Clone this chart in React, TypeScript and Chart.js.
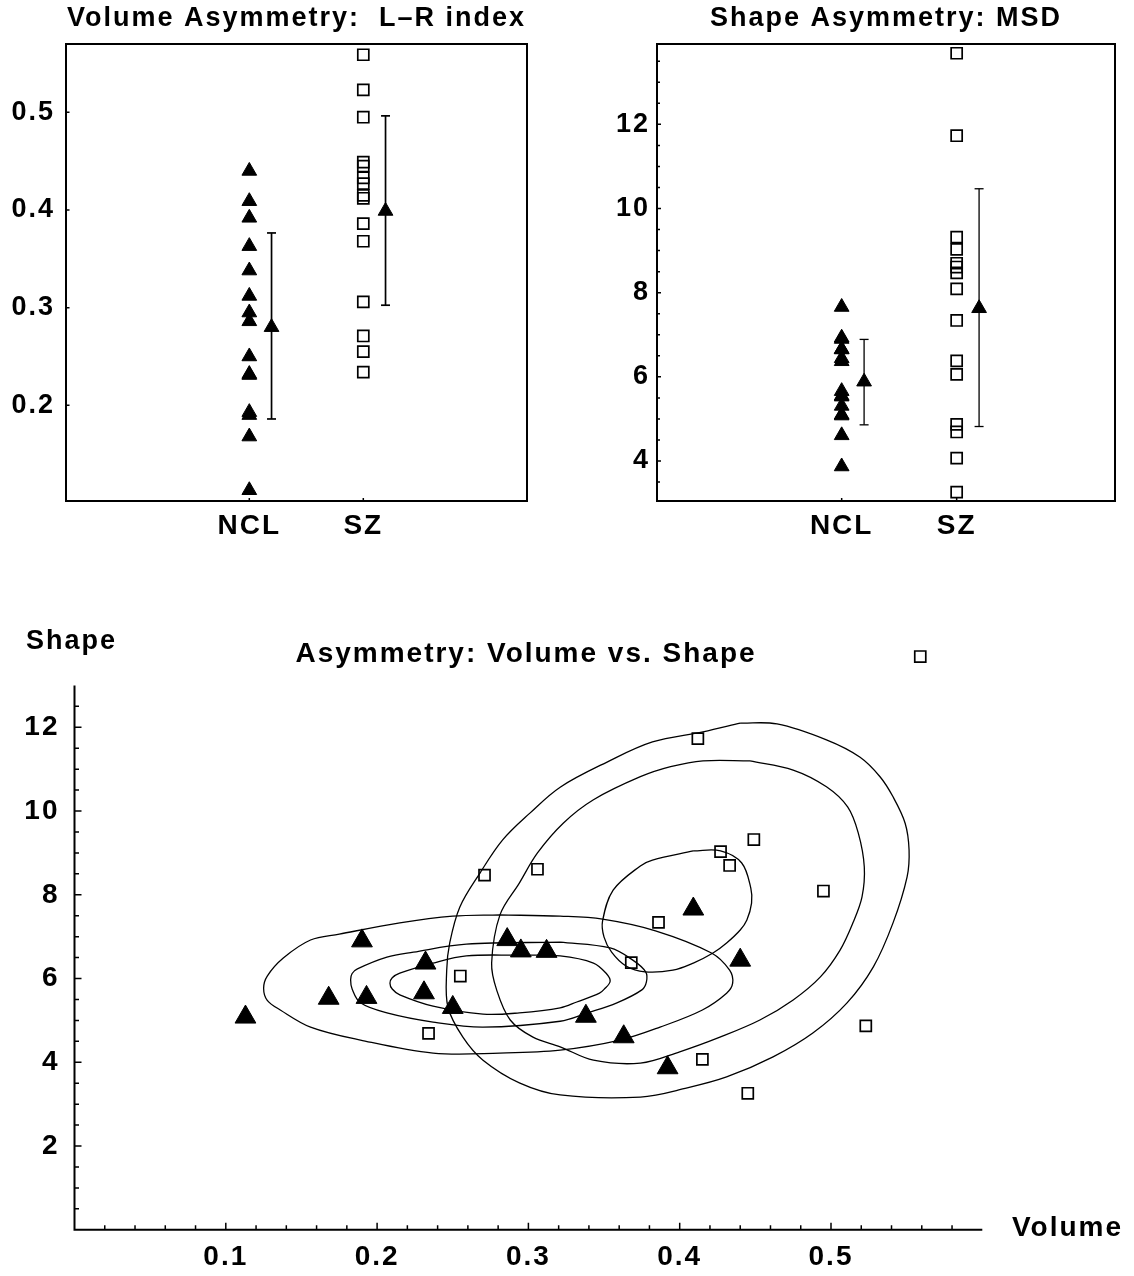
import React, { useEffect, useRef } from 'react';
import { Chart, registerables } from 'chart.js';

Chart.register(...registerables);

const FONT = '"Liberation Sans", Arial, sans-serif';
const BLACK = '#000';

// ---------- data ----------
const groups = ['NCL', 'SZ'];

const nclVolume = [0.113, 0.168, 0.190, 0.193, 0.232, 0.231, 0.250, 0.286, 0.295, 0.312, 0.338, 0.363, 0.392, 0.409, 0.440];
const nclShape = [5.08, 5.53, 6.90, 5.55, 6.37, 5.66, 5.31, 6.93, 6.66, 6.65, 5.10, 4.61, 3.87, 7.66, 6.44];
const szVolume = [0.559, 0.412, 0.449, 0.427, 0.433, 0.306, 0.271, 0.495, 0.386, 0.368, 0.255, 0.523, 0.234, 0.415, 0.445];
const szShape = [13.69, 11.73, 9.32, 9.03, 8.70, 8.61, 8.47, 8.09, 7.34, 6.38, 6.06, 4.87, 4.69, 4.07, 3.26];

const volumeMean = [0.280, 0.399];
const volumeLow = [0.186, 0.3025];
const volumeHigh = [0.3765, 0.4964];
const shapeMean = [5.885, 7.63];
const shapeLow = [4.86, 4.82];
const shapeHigh = [6.89, 10.47];

const volumeTickLabels = ['0.2', '0.3', '0.4', '0.5'];
const shapeTickLabels = ['4', '6', '8', '10', '12'];
const scatterXTickLabels = ['0.1', '0.2', '0.3', '0.4', '0.5'];
const scatterYTickLabels = ['2', '4', '6', '8', '10', '12'];

// contour outlines: [volume, shape]
const nclContourInner = [[0.2085, 5.89], [0.210, 6.02], [0.215, 6.13], [0.237, 6.37], [0.259, 6.54], [0.294, 6.56], [0.321, 6.54], [0.343, 6.37], [0.3515, 6.12], [0.354, 5.93], [0.350, 5.74], [0.347, 5.65], [0.332, 5.44], [0.321, 5.30], [0.294, 5.18], [0.270, 5.15], [0.237, 5.34], [0.215, 5.61], [0.210, 5.75]];
const nclContourMiddle = [[0.1825, 5.97], [0.1835, 6.12], [0.187, 6.23], [0.2065, 6.51], [0.224, 6.63], [0.259, 6.82], [0.321, 6.87], [0.354, 6.73], [0.369, 6.44], [0.3775, 6.16], [0.378, 5.92], [0.375, 5.73], [0.3585, 5.42], [0.339, 5.18], [0.321, 4.98], [0.270, 4.84], [0.237, 4.96], [0.2065, 5.18], [0.189, 5.42], [0.1835, 5.75]];
const nclContourOuter = [[0.125, 5.77], [0.1274, 6.06], [0.138, 6.49], [0.156, 6.92], [0.175, 7.06], [0.215, 7.33], [0.250, 7.49], [0.281, 7.52], [0.321, 7.49], [0.349, 7.42], [0.384, 7.14], [0.421, 6.61], [0.433, 6.20], [0.435, 5.89], [0.431, 5.65], [0.415, 5.25], [0.387, 4.84], [0.3605, 4.53], [0.321, 4.29], [0.281, 4.22], [0.237, 4.22], [0.189, 4.53], [0.156, 4.84], [0.136, 5.25], [0.1274, 5.48]];
const szContourInner = [[0.349, 7.37], [0.356, 8.11], [0.374, 8.69], [0.382, 8.83], [0.409, 9.05], [0.427, 9.05], [0.441, 8.76], [0.447, 8.16], [0.4475, 7.80], [0.4444, 7.40], [0.440, 7.16], [0.431, 6.85], [0.422, 6.61], [0.409, 6.37], [0.3955, 6.20], [0.377, 6.16], [0.3645, 6.30], [0.355, 6.63], [0.350, 6.99]];
const szContourMiddle = [[0.2757, 6.37], [0.279, 5.73], [0.288, 5.01], [0.303, 4.60], [0.321, 4.37], [0.343, 4.05], [0.374, 3.98], [0.400, 4.25], [0.4266, 4.60], [0.453, 5.01], [0.475, 5.49], [0.493, 6.04], [0.506, 6.68], [0.5145, 7.33], [0.5205, 7.95], [0.522, 8.67], [0.518, 9.48], [0.511, 10.10], [0.497, 10.58], [0.475, 10.98], [0.4465, 11.20], [0.4154, 11.20], [0.394, 11.06], [0.374, 10.82], [0.343, 10.27], [0.323, 9.71], [0.306, 9.00], [0.294, 8.28], [0.2812, 7.52]];
const szContourOuter = [[0.246, 6.20], [0.2468, 5.32], [0.2567, 4.60], [0.270, 4.05], [0.294, 3.51], [0.321, 3.22], [0.374, 3.17], [0.405, 3.39], [0.431, 3.65], [0.4617, 4.13], [0.488, 4.70], [0.5106, 5.42], [0.528, 6.28], [0.541, 7.33], [0.5503, 8.43], [0.5516, 9.07], [0.549, 9.71], [0.541, 10.34], [0.5324, 10.82], [0.519, 11.29], [0.497, 11.70], [0.4643, 12.08], [0.440, 12.10], [0.4154, 11.89], [0.382, 11.65], [0.352, 11.17], [0.321, 10.57], [0.301, 9.95], [0.283, 9.31], [0.268, 8.52], [0.2547, 7.71], [0.248, 6.85]];

// ---------- helpers ----------
function steps(start: number, end: number, step: number) {
  const out: number[] = [];
  for (let i = 0; start + i * step <= end + 1e-9; i++) out.push(+(start + i * step).toFixed(6));
  return out;
}

function buildAxis(o: any) {
  const majors: number[] = o.majors;
  const labels: string[] = o.labels;
  const minors: number[] = o.minors || [];
  return {
    type: 'linear',
    min: o.min,
    max: o.max,
    grid: { display: false, drawTicks: false, tickLength: 0 },
    border: { display: false },
    afterFit: (s: any) => {
      if (o.horizontal) s.height = o.size;
      else s.width = o.size;
    },
    afterBuildTicks: (s: any) => {
      const all = majors.concat(minors.filter((m) => !majors.some((v) => Math.abs(v - m) < 1e-6)));
      all.sort((a, b) => a - b);
      s.ticks = all.map((v) => ({ value: v }));
    },
    ticks: {
      autoSkip: false,
      maxRotation: 0,
      minRotation: 0,
      padding: o.padding,
      color: BLACK,
      font: { family: FONT, size: o.fontSize, weight: 'bold' },
      callback: (v: number) => {
        const i = majors.findIndex((m) => Math.abs(m - v) < 1e-6);
        return i >= 0 ? labels[i] : '';
      },
    },
  };
}

function makeDecor(o: any) {
  return {
    id: 'decor',
    beforeDraw(chart: any) {
      chart.ctx.letterSpacing = '2px';
    },
    beforeDatasetsDraw(chart: any) {
      const { ctx, chartArea: a } = chart;
      const xs = chart.scales.x;
      const ys = chart.scales.y;
      ctx.save();
      ctx.strokeStyle = BLACK;
      ctx.lineWidth = o.frameWidth;
      if (o.box) {
        ctx.strokeRect(a.left, a.top, a.right - a.left, a.bottom - a.top);
      } else {
        const top = ys.getPixelForValue(o.yAxisTop);
        ctx.beginPath();
        ctx.moveTo(a.left, top);
        ctx.lineTo(a.left, a.bottom);
        ctx.lineTo(a.right, a.bottom);
        ctx.stroke();
      }
      ctx.lineWidth = o.tickWidth;
      ctx.beginPath();
      ys.ticks.forEach((t: any) => {
        const p = ys.getPixelForValue(t.value);
        const len = t.label ? o.yMajor : o.yMinor;
        ctx.moveTo(a.left, p);
        ctx.lineTo(a.left + len, p);
      });
      xs.ticks.forEach((t: any) => {
        const p = xs.getPixelForValue(t.value);
        const len = t.label ? o.xMajor : o.xMinor;
        ctx.moveTo(p, a.bottom);
        ctx.lineTo(p, a.bottom - len);
      });
      ctx.stroke();
      ctx.restore();
    },
    afterDraw(chart: any) {
      const ctx = chart.ctx;
      (o.texts || []).forEach((t: any) => {
        ctx.save();
        ctx.font = `bold ${t.size}px ${FONT}`;
        ctx.fillStyle = BLACK;
        ctx.textAlign = t.align;
        ctx.textBaseline = 'middle';
        ctx.fillText(t.text, t.x, t.y);
        ctx.restore();
      });
    },
  };
}

function pointsDataset(data: any[], style: string, radius: number, filled: boolean) {
  return {
    data,
    showLine: false,
    pointStyle: style,
    pointRadius: radius,
    pointHoverRadius: radius,
    pointBorderWidth: filled ? 1 : 1.7,
    pointBorderColor: BLACK,
    pointBackgroundColor: filled ? BLACK : 'rgba(0,0,0,0)',
  };
}

function errorBarDataset(x: number, low: number, high: number, w: number) {
  return {
    data: [{ x, y: low }, { x, y: high }],
    showLine: true,
    borderColor: BLACK,
    borderWidth: w,
    pointStyle: 'line',
    pointRadius: 4.5,
    pointHoverRadius: 4.5,
    pointBorderWidth: w,
    pointBorderColor: BLACK,
  };
}

function contourDataset(pts: number[][]) {
  // start the closed outline at its topmost vertex, where the seam is least visible
  let top = 0;
  pts.forEach((p, i) => {
    if (p[1] > pts[top][1]) top = i;
  });
  const ordered = pts.slice(top).concat(pts.slice(0, top));
  const data = ordered.map(([x, y]) => ({ x, y }));
  data.push({ x: ordered[0][0], y: ordered[0][1] });
  return {
    data,
    showLine: true,
    borderColor: BLACK,
    borderWidth: 1.3,
    pointRadius: 0,
    pointHoverRadius: 0,
    tension: 0.35,
    fill: false,
  };
}

const BAR_OFFSET = 0.195;

function groupPanelConfig(p: any) {
  const gx = (i: number) => i + 1;
  const datasets: any[] = [];
  for (let i = 0; i < groups.length; i++) {
    datasets.push(pointsDataset([{ x: gx(i) + BAR_OFFSET, y: p.mean[i] }], 'triangle', 8.5, true));
  }
  for (let i = 0; i < groups.length; i++) {
    datasets.push(errorBarDataset(gx(i) + BAR_OFFSET, p.low[i], p.high[i], p.barWidth));
  }
  datasets.push(pointsDataset(p.ncl.map((v: number) => ({ x: gx(0), y: v })), 'triangle', 8.5, true));
  datasets.push(pointsDataset(p.sz.map((v: number) => ({ x: gx(1), y: v })), 'rect', 7.8, false));
  return {
    type: 'scatter',
    data: { datasets },
    plugins: [makeDecor({ box: true, frameWidth: 2, tickWidth: 1.5, yMajor: p.yMajor, yMinor: 3, xMajor: 3, xMinor: 3 })],
    options: {
      animation: false,
      responsive: false,
      events: [],
      layout: { padding: { left: 0, right: p.padRight, top: 0, bottom: 0 } },
      plugins: {
        legend: { display: false },
        tooltip: { enabled: false },
        title: {
          display: true,
          text: p.title,
          fullSize: false,
          color: BLACK,
          font: { family: FONT, size: 27, weight: 'bold', lineHeight: 1.2 },
          padding: { top: 2.3, bottom: 9.3 },
        },
      },
      scales: {
        x: buildAxis({ horizontal: true, size: 59, min: p.xMin, max: p.xMax, majors: [1, 2], labels: groups, padding: 8, fontSize: 28 }),
        y: buildAxis({ horizontal: false, size: p.yWidth, min: p.yMin, max: p.yMax, majors: p.yMajors, labels: p.yLabels, minors: p.yMinors, padding: p.yPad, fontSize: 27 }),
      },
    },
  };
}

const volumeConfig = () =>
  groupPanelConfig({
    title: 'Volume Asymmetry:  L\u2013R index',
    ncl: nclVolume,
    sz: szVolume,
    mean: volumeMean,
    low: volumeLow,
    high: volumeHigh,
    barWidth: 1.7,
    padRight: 63,
    yWidth: 66,
    yMin: 0.102,
    yMax: 0.57,
    xMin: -0.608,
    xMax: 3.436,
    yMajors: volumeTickLabels.map(Number),
    yLabels: volumeTickLabels,
    yMinors: [],
    yMajor: 3.5,
    yPad: 11,
  });

const shapeConfig = () =>
  groupPanelConfig({
    title: 'Shape Asymmetry: MSD',
    ncl: nclShape,
    sz: szShape,
    mean: shapeMean,
    low: shapeLow,
    high: shapeHigh,
    barWidth: 1.3,
    padRight: 19,
    yWidth: 67,
    yMin: 3.05,
    yMax: 13.91,
    xMin: -0.606,
    xMax: 3.377,
    yMajors: shapeTickLabels.map(Number),
    yLabels: shapeTickLabels,
    yMinors: steps(3.5, 13.5, 0.5),
    yMajor: 4,
    yPad: 7,
  });

const scatterConfig = () => {
  const ncl = nclVolume.map((v, i) => ({ x: v, y: nclShape[i] }));
  const sz = szVolume.map((v, i) => ({ x: v, y: szShape[i] }));
  const datasets: any[] = [
    pointsDataset(ncl, 'triangle', 12, true),
    { ...pointsDataset(sz, 'rect', 7.8, false), clip: false },
    contourDataset(nclContourInner),
    contourDataset(nclContourMiddle),
    contourDataset(nclContourOuter),
    contourDataset(szContourInner),
    contourDataset(szContourMiddle),
    contourDataset(szContourOuter),
  ];
  return {
    type: 'scatter',
    data: { datasets },
    plugins: [
      makeDecor({
        box: false,
        yAxisTop: 13,
        frameWidth: 2,
        tickWidth: 1.5,
        yMajor: 7,
        yMinor: 4.5,
        xMajor: 7,
        xMinor: 4.5,
        texts: [
          { text: 'Asymmetry: Volume vs. Shape', x: 526, y: 54, align: 'center', size: 28 },
          { text: 'Shape', x: 26, y: 42, align: 'left', size: 27 },
          { text: 'Volume', x: 1012, y: 628, align: 'left', size: 28 },
        ],
      }),
    ],
    options: {
      animation: false,
      responsive: false,
      events: [],
      layout: { padding: { left: 0, right: 151.7, top: 43.55, bottom: 0 } },
      plugins: {
        legend: { display: false },
        tooltip: { enabled: false },
        title: { display: false },
      },
      scales: {
        x: buildAxis({ horizontal: true, size: 46.2, min: 0, max: 0.6, majors: scatterXTickLabels.map(Number), labels: scatterXTickLabels, minors: steps(0.02, 0.58, 0.02), padding: 11, fontSize: 28 }),
        y: buildAxis({ horizontal: false, size: 74.5, min: 0, max: 14, majors: scatterYTickLabels.map(Number), labels: scatterYTickLabels, minors: steps(0.5, 12.5, 0.5), padding: 15, fontSize: 28 }),
      },
    },
  };
};

function ChartCanvas(props: any) {
  const ref = useRef<HTMLCanvasElement>(null);
  useEffect(() => {
    const chart = new Chart(ref.current as any, props.config() as any);
    return () => chart.destroy();
  }, []);
  return (
    <canvas
      ref={ref}
      width={props.width}
      height={props.height}
      style={{ position: 'absolute', left: props.left, top: props.top, width: props.width, height: props.height, display: 'block' }}
    />
  );
}

export default function App() {
  return (
    <div style={{ position: 'absolute', left: 0, top: 0, width: 1134, height: 1276, background: '#fff', overflow: 'hidden' }}>
      <ChartCanvas config={volumeConfig} left={0} top={0} width={590} height={560} />
      <ChartCanvas config={shapeConfig} left={590} top={0} width={544} height={560} />
      <ChartCanvas config={scatterConfig} left={0} top={600} width={1134} height={676} />
    </div>
  );
}
